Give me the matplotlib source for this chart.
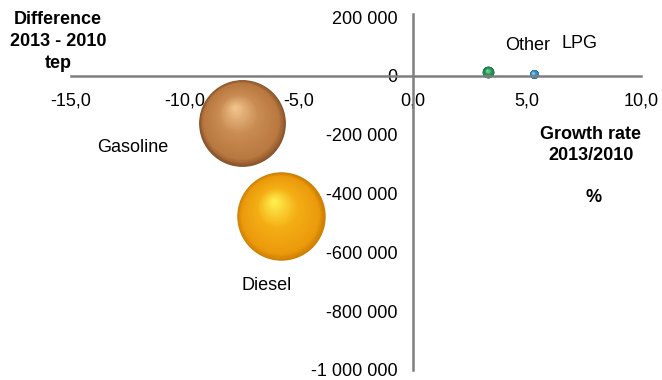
import matplotlib
matplotlib.use("Agg")
import matplotlib.pyplot as plt
from matplotlib.transforms import offset_copy
from matplotlib.colors import LinearSegmentedColormap
import numpy as np

plt.rcParams['font.family'] = ['Liberation Sans', 'DejaVu Sans']

# Fuel products: growth rate 2013/2010 (%) vs. difference 2013-2010 (tep)
products = ["Gasoline", "Diesel", "Other", "LPG"]
growth_rate = [-7.5, -5.8, 3.3, 5.3]
difference_tep = [-160000, -478000, 12000, 5000]
volume = [3900, 4050, 70, 40]

x_ticks = [-15, -10, -5, 0, 5, 10]
x_tick_labels = ["-15,0", "-10,0", "-5,0", "0,0", "5,0", "10,0"]
y_ticks = [200000, 0, -200000, -400000, -600000, -800000, -1000000]
y_tick_labels = ["200 000", "0", "-200 000", "-400 000", "-600 000", "-800 000", "-1 000 000"]

# shading: rim, body, light body, highlight
shades = [
    ["#86522a", "#b87840", "#c98c52", "#f2c48e"],
    ["#cc7e00", "#eb9a0c", "#f4ae14", "#fff050"],
    ["#0d5530", "#1f8a50", "#2c9a5c", "#8edcaa"],
    ["#14507e", "#2a84c0", "#3592cc", "#a8d6f4"],
]
label_offsets = [(-79, -18), (-10, -50), (28, 19), (33, 22)]

FS = 13

fig = plt.figure(figsize=(6.62, 3.80), dpi=100)
ax = fig.add_axes([71 / 662, 1 - 370 / 380, 570 / 662, 353 / 380])
ax.set_xlim(-15, 10)
ax.set_ylim(-1000000, 200000)

for sp in ["top", "right"]:
    ax.spines[sp].set_visible(False)
ax.spines["bottom"].set_position(("data", 0))
ax.spines["left"].set_position(("data", 0))
for sp in ["bottom", "left"]:
    ax.spines[sp].set_color("#7f7f7f")
    ax.spines[sp].set_linewidth(1.8)
ax.spines["left"].set_bounds(-1000000, 210000)

ax.set_xticks(x_ticks)
ax.set_xticklabels(x_tick_labels)
ax.set_yticks(y_ticks)
ax.set_yticklabels(y_tick_labels)
ax.tick_params(axis="x", length=0, pad=12, labelsize=FS)
ax.tick_params(axis="y", length=0, pad=11, labelsize=FS)
ax.patch.set_alpha(0)

n_layers = 80
for name, gx, dy, vol, cols, off in zip(products, growth_rate, difference_tep,
                                         volume, shades, label_offsets):
    cmap = LinearSegmentedColormap.from_list(
        name, [(0, cols[0]), (0.12, cols[1]), (0.55, cols[2]), (1, cols[3])])
    R = np.sqrt(vol) / 2.0  # radius in points
    for k in range(n_layers):
        f = k / n_layers
        r = R * (1 - f * 0.98)
        tr = offset_copy(ax.transData, fig=fig, x=-0.16 * R * f, y=0.36 * R * f,
                         units="points")
        ax.scatter([gx], [dy], s=(2 * r) ** 2, color=cmap(f),
                   linewidths=0, transform=tr, zorder=1 + f)
    ax.annotate(name, (gx, dy), xytext=off, textcoords="offset points",
                ha="center", va="center", fontsize=FS, color="#000000")

fig.text(58 / 662, 1 - 11 / 380, "Difference\n2013 - 2010\ntep", ha="center",
         va="top", fontsize=FS, fontweight="bold", linespacing=1.4)
fig.text(591 / 662, 1 - 145 / 380, "Growth rate\n2013/2010", ha="center",
         va="center", fontsize=FS, fontweight="bold", linespacing=1.35)
fig.text(594 / 662, 1 - 198 / 380, "%", ha="center", va="center",
         fontsize=FS, fontweight="bold")

fig.savefig("out.png", dpi=100)
